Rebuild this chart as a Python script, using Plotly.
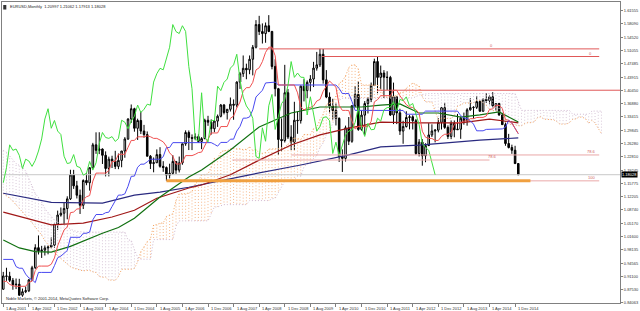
import plotly.graph_objects as go

# ---------------- DATA ----------------
# Monthly EURUSD bars, Aug 2001 .. Jan 2015 (index 0 = Aug 2001)
opens = [0.8763, 0.9116, 0.9108, 0.9000, 0.8881,
         0.8895, 0.8606, 0.8698, 0.8724, 0.9011, 0.9333, 0.9867, 0.9783, 0.9802, 0.9860, 0.9881, 0.9934,
         1.0487, 1.0733, 1.0781, 1.0906, 1.1162, 1.1798, 1.1507, 1.1258, 1.0992, 1.1650, 1.1589, 1.1989,
         1.2596, 1.2450, 1.2485, 1.2318, 1.1967, 1.2216, 1.2166, 1.2024, 1.2183, 1.2431, 1.2752, 1.3281,
         1.3554, 1.3035, 1.3242, 1.2961, 1.2869, 1.2294, 1.2098, 1.2122, 1.2337, 1.2025, 1.1993, 1.1792,
         1.1840, 1.2155, 1.1925, 1.2118, 1.2624, 1.2924, 1.2790, 1.2768, 1.2814, 1.2687, 1.2761, 1.3248,
         1.3197, 1.3023, 1.3226, 1.3354, 1.3652, 1.3454, 1.3539, 1.3674, 1.3649, 1.4261, 1.4484, 1.4627,
         1.4587, 1.4867, 1.5186, 1.5788, 1.5601, 1.5549, 1.5757, 1.5605, 1.4676, 1.4085, 1.2738, 1.2708,
         1.3978, 1.2802, 1.2669, 1.3248, 1.3238, 1.4152, 1.4034, 1.4254, 1.4342, 1.4632, 1.4718, 1.4999,
         1.4320, 1.3864, 1.3628, 1.3507, 1.3298, 1.2284, 1.2237, 1.3048, 1.2690, 1.3633, 1.3933, 1.3004,
         1.3384, 1.3692, 1.3800, 1.4173, 1.4806, 1.4386, 1.4501, 1.4391, 1.4385, 1.3388, 1.3871, 1.3445,
         1.2961, 1.3081, 1.3321, 1.3340, 1.3237, 1.2366, 1.2667, 1.2306, 1.2577, 1.2858, 1.2963, 1.2986,
         1.3193, 1.3580, 1.3058, 1.2819, 1.3166, 1.2995, 1.3009, 1.3302, 1.3224, 1.3525, 1.3583, 1.3591,
         1.3743, 1.3487, 1.3802, 1.3769, 1.3869, 1.3634, 1.3692, 1.3388, 1.3132, 1.2631, 1.2525, 1.2452,
         1.20997]
highs = [0.9224, 0.9334, 0.9226, 0.9062, 0.9048,
         0.9040, 0.8782, 0.8836, 0.9035, 0.9385, 0.9958, 1.0192, 0.9915, 0.9925, 0.9925, 1.0138, 1.0500,
         1.0850, 1.0933, 1.1079, 1.1230, 1.1934, 1.1932, 1.1640, 1.1408, 1.1680, 1.1838, 1.2000, 1.2648,
         1.2928, 1.2930, 1.2500, 1.2422, 1.2283, 1.2307, 1.2437, 1.2365, 1.2434, 1.2800, 1.3300, 1.3667,
         1.3580, 1.3290, 1.3480, 1.3125, 1.2951, 1.2325, 1.2260, 1.2475, 1.2533, 1.2162, 1.2020, 1.2095,
         1.2324, 1.2157, 1.2285, 1.2625, 1.2980, 1.2978, 1.2872, 1.2900, 1.2873, 1.2800, 1.3289, 1.3366,
         1.3270, 1.3250, 1.3400, 1.3680, 1.3680, 1.3545, 1.3852, 1.3801, 1.4282, 1.4528, 1.4967, 1.4750,
         1.4967, 1.5246, 1.5905, 1.6019, 1.5818, 1.5842, 1.6038, 1.5620, 1.4867, 1.4107, 1.3298, 1.4719,
         1.4077, 1.3118, 1.3738, 1.3479, 1.4169, 1.4338, 1.4305, 1.4446, 1.4798, 1.5062, 1.5144, 1.5139,
         1.4579, 1.3987, 1.3818, 1.3692, 1.3325, 1.2475, 1.3106, 1.3334, 1.3650, 1.4158, 1.4282, 1.3500,
         1.3757, 1.3862, 1.4249, 1.4882, 1.4940, 1.4700, 1.4578, 1.4548, 1.4427, 1.4247, 1.3875, 1.3553,
         1.3234, 1.3487, 1.3386, 1.3380, 1.3283, 1.2748, 1.2747, 1.2637, 1.3172, 1.3140, 1.3010, 1.3308,
         1.3598, 1.3711, 1.3112, 1.3243, 1.3242, 1.3416, 1.3345, 1.3452, 1.3569, 1.3832, 1.3620, 1.3893,
         1.3775, 1.3826, 1.3967, 1.3905, 1.3993, 1.3700, 1.3700, 1.3444, 1.3222, 1.2887, 1.2600, 1.2570,
         1.21062]
lows = [0.8754, 0.8986, 0.8955, 0.8750, 0.8768,
        0.8590, 0.8564, 0.8660, 0.8688, 0.8985, 0.9305, 0.9686, 0.9594, 0.9658, 0.9690, 0.9852, 0.9864,
        1.0337, 1.0690, 1.0499, 1.0620, 1.1131, 1.1427, 1.1172, 1.0761, 1.0892, 1.1524, 1.1380, 1.1960,
        1.2356, 1.2350, 1.2088, 1.1758, 1.1758, 1.1980, 1.1952, 1.1950, 1.2000, 1.2254, 1.2726, 1.3180,
        1.2945, 1.2725, 1.2881, 1.2785, 1.2290, 1.1954, 1.1867, 1.2110, 1.1990, 1.1880, 1.1640, 1.1705,
        1.1800, 1.1825, 1.1862, 1.2067, 1.2570, 1.2457, 1.2456, 1.2718, 1.2650, 1.2482, 1.2745, 1.3100,
        1.2866, 1.2930, 1.3072, 1.3325, 1.3403, 1.3267, 1.3480, 1.3261, 1.3589, 1.4080, 1.4398, 1.4336,
        1.4470, 1.4439, 1.5154, 1.5509, 1.5285, 1.5305, 1.5586, 1.4600, 1.3881, 1.2329, 1.2423, 1.2658,
        1.2750, 1.2456, 1.2455, 1.2888, 1.3160, 1.3748, 1.3832, 1.4015, 1.4129, 1.4564, 1.4661, 1.4219,
        1.3834, 1.3434, 1.3267, 1.3110, 1.2142, 1.1876, 1.2152, 1.2590, 1.2650, 1.3598, 1.2968, 1.2971,
        1.2860, 1.3428, 1.3730, 1.4155, 1.3967, 1.4072, 1.3837, 1.4052, 1.3363, 1.3146, 1.3146, 1.2858,
        1.2624, 1.3055, 1.3006, 1.3004, 1.2331, 1.2288, 1.2042, 1.2134, 1.2562, 1.2802, 1.2661, 1.2927,
        1.3003, 1.3020, 1.2750, 1.2746, 1.2796, 1.2990, 1.2755, 1.3131, 1.3104, 1.3502, 1.3295, 1.3546,
        1.3477, 1.3475, 1.3705, 1.3673, 1.3588, 1.3503, 1.3368, 1.3131, 1.2571, 1.2500, 1.2357, 1.2095,
        1.17913]
closes = [0.9116, 0.9108, 0.9000, 0.8881, 0.8895,
          0.8606, 0.8698, 0.8724, 0.9011, 0.9333, 0.9867, 0.9783, 0.9802, 0.9860, 0.9881, 0.9934, 1.0487,
          1.0733, 1.0781, 1.0906, 1.1162, 1.1798, 1.1507, 1.1258, 1.0992, 1.1650, 1.1589, 1.1989, 1.2596,
          1.2450, 1.2485, 1.2318, 1.1967, 1.2216, 1.2166, 1.2024, 1.2183, 1.2431, 1.2752, 1.3281, 1.3554,
          1.3035, 1.3242, 1.2961, 1.2869, 1.2294, 1.2098, 1.2122, 1.2337, 1.2025, 1.1993, 1.1792, 1.1840,
          1.2155, 1.1925, 1.2118, 1.2624, 1.2924, 1.2790, 1.2768, 1.2814, 1.2687, 1.2761, 1.3248, 1.3197,
          1.3023, 1.3226, 1.3354, 1.3652, 1.3454, 1.3539, 1.3674, 1.3649, 1.4261, 1.4484, 1.4627, 1.4587,
          1.4867, 1.5186, 1.5788, 1.5601, 1.5549, 1.5757, 1.5605, 1.4676, 1.4085, 1.2738, 1.2708, 1.3978,
          1.2802, 1.2669, 1.3248, 1.3238, 1.4152, 1.4034, 1.4254, 1.4342, 1.4632, 1.4718, 1.4999, 1.4320,
          1.3864, 1.3628, 1.3507, 1.3298, 1.2284, 1.2237, 1.3048, 1.2690, 1.3633, 1.3933, 1.3004, 1.3384,
          1.3692, 1.3800, 1.4173, 1.4806, 1.4386, 1.4501, 1.4391, 1.4385, 1.3388, 1.3871, 1.3445, 1.2961,
          1.3081, 1.3321, 1.3340, 1.3237, 1.2366, 1.2667, 1.2306, 1.2577, 1.2858, 1.2963, 1.2986, 1.3193,
          1.3580, 1.3058, 1.2819, 1.3166, 1.2995, 1.3009, 1.3302, 1.3224, 1.3525, 1.3583, 1.3591, 1.3743,
          1.3487, 1.3802, 1.3769, 1.3869, 1.3634, 1.3692, 1.3388, 1.3132, 1.2631, 1.2525, 1.2452, 1.2098,
          1.18028]

# Ichimoku Tenkan-sen (red) and Kijun-sen (blue), one value per bar
tenkan = [0.8972, 0.8972, 0.8893, 0.8855, 0.8842, 0.8842, 0.8842, 0.8842, 0.8949, 0.8975,
          0.9261, 0.9378, 0.9378, 0.9378, 0.9378, 0.9426, 0.9594, 0.9918, 1.0119, 1.0337,
          1.0412, 1.0796, 1.0812, 1.0893, 1.0899, 1.1136, 1.1217, 1.1250, 1.1634, 1.1845,
          1.1846, 1.1846, 1.1846, 1.1911, 1.2155, 1.2155, 1.2344, 1.2344, 1.2344, 1.2529,
          1.2713, 1.2713, 1.2809, 1.2809, 1.2809, 1.2834, 1.2811, 1.2767, 1.2767, 1.2724,
          1.2674, 1.2560, 1.2383, 1.2296, 1.2087, 1.2087, 1.2133, 1.2310, 1.2310, 1.2310,
          1.2343, 1.2390, 1.2403, 1.2576, 1.2717, 1.2911, 1.2911, 1.2911, 1.3081, 1.3081,
          1.3081, 1.3299, 1.3359, 1.3574, 1.3729, 1.4020, 1.4114, 1.4114, 1.4254, 1.4583,
          1.4640, 1.4804, 1.5050, 1.5187, 1.5187, 1.4960, 1.4184, 1.4184, 1.4184, 1.4184,
          1.4184, 1.4184, 1.3975, 1.3598, 1.3524, 1.3571, 1.3587, 1.3627, 1.3759, 1.3800,
          1.4016, 1.4152, 1.4289, 1.4206, 1.4127, 1.3643, 1.3510, 1.3510, 1.3508, 1.3228,
          1.3017, 1.3079, 1.3079, 1.3079, 1.3079, 1.3217, 1.3736, 1.3795, 1.3900, 1.3900,
          1.3900, 1.3900, 1.4043, 1.4043, 1.3899, 1.3782, 1.3662, 1.3601, 1.3586, 1.3526,
          1.3436, 1.2956, 1.2798, 1.2765, 1.2765, 1.2714, 1.2711, 1.2820, 1.2877, 1.2877,
          1.2923, 1.3137, 1.3186, 1.3186, 1.3229, 1.3229, 1.3289, 1.3289, 1.3320, 1.3324,
          1.3324, 1.3361, 1.3536, 1.3549, 1.3644, 1.3644, 1.3562, 1.3269, 1.3247, 1.3175,
          1.3047, 1.2892]
kijun = [0.9555, 0.9555, 0.9555, 0.9555, 0.9364, 0.9321, 0.9321, 0.9164, 0.9064, 0.9019,
         0.8939, 0.9210, 0.9210, 0.9210, 0.9210, 0.9210, 0.9390, 0.9600, 0.9642, 0.9715,
         0.9790, 1.0142, 1.0142, 1.0142, 1.0142, 1.0249, 1.0249, 1.0282, 1.0606, 1.0746,
         1.0747, 1.0747, 1.0795, 1.0809, 1.0958, 1.1118, 1.1262, 1.1262, 1.1294, 1.1495,
         1.1760, 1.1766, 1.2002, 1.2083, 1.2083, 1.2144, 1.2214, 1.2214, 1.2214, 1.2214,
         1.2280, 1.2524, 1.2524, 1.2654, 1.2654, 1.2654, 1.2654, 1.2654, 1.2654, 1.2654,
         1.2654, 1.2654, 1.2654, 1.2654, 1.2654, 1.2654, 1.2610, 1.2560, 1.2660, 1.2660,
         1.2660, 1.2746, 1.2746, 1.2961, 1.3084, 1.3304, 1.3304, 1.3336, 1.3523, 1.3865,
         1.3941, 1.4043, 1.4238, 1.4247, 1.4247, 1.4260, 1.4184, 1.4184, 1.4184, 1.4184,
         1.4184, 1.4184, 1.4184, 1.4184, 1.4184, 1.4184, 1.4184, 1.4184, 1.4184, 1.4184,
         1.4184, 1.4184, 1.4184, 1.4184, 1.4184, 1.4090, 1.3957, 1.3957, 1.3957, 1.3748,
         1.3510, 1.3510, 1.3510, 1.3510, 1.3510, 1.3510, 1.3510, 1.3510, 1.3510, 1.3510,
         1.3510, 1.3510, 1.3510, 1.3510, 1.3510, 1.3508, 1.3408, 1.3408, 1.3408, 1.3408,
         1.3408, 1.3408, 1.3491, 1.3491, 1.3491, 1.3491, 1.3491, 1.3491, 1.3491, 1.3491,
         1.3491, 1.3491, 1.3491, 1.3371, 1.3310, 1.3295, 1.3235, 1.3145, 1.2968, 1.2968,
         1.2968, 1.3005, 1.3005, 1.3018, 1.3018, 1.3018, 1.3018, 1.3064, 1.3247, 1.3175,
         1.3047, 1.2892]

# Ichimoku cloud (Senkou A / B) as displayed at each bar position 0..187
span_a = [1.130, 1.125, 1.118, 1.110, 1.100, 1.090, 1.080, 1.072, 1.063, 1.052,
          1.040, 1.030, 1.020, 1.005, 0.995, 0.985, 0.972, 0.965, 0.958, 0.950,
          0.943, 0.936, 0.932, 0.930, 0.927, 0.925,
          0.9264, 0.9264, 0.9224, 0.9205, 0.9103, 0.9082, 0.9082, 0.9003, 0.9007, 0.8997,
          0.9100, 0.9294, 0.9294, 0.9294, 0.9294, 0.9318, 0.9492, 0.9759, 0.9881, 1.0026,
          1.0101, 1.0469, 1.0477, 1.0518, 1.0521, 1.0693, 1.0733, 1.0766, 1.1120, 1.1296,
          1.1297, 1.1297, 1.1321, 1.1360, 1.1557, 1.1637, 1.1803, 1.1803, 1.1819, 1.2012,
          1.2237, 1.2240, 1.2406, 1.2446, 1.2446, 1.2489, 1.2513, 1.2491, 1.2491, 1.2469,
          1.2477, 1.2542, 1.2454, 1.2475, 1.2371, 1.2371, 1.2394, 1.2482, 1.2482, 1.2482,
          1.2499, 1.2522, 1.2529, 1.2615, 1.2686, 1.2783, 1.2761, 1.2736, 1.2871, 1.2871,
          1.2871, 1.3023, 1.3053, 1.3268, 1.3407, 1.3662, 1.3709, 1.3725, 1.3889, 1.4224,
          1.4291, 1.4424, 1.4644, 1.4717, 1.4717, 1.4610, 1.4184, 1.4184, 1.4184, 1.4184,
          1.4184, 1.4184, 1.4080, 1.3891, 1.3854, 1.3878, 1.3886, 1.3906, 1.3972, 1.3992,
          1.4100, 1.4168, 1.4237, 1.4195, 1.4156, 1.3867, 1.3734, 1.3734, 1.3733, 1.3488,
          1.3264, 1.3295, 1.3295, 1.3295, 1.3295, 1.3364, 1.3623, 1.3653, 1.3705, 1.3705,
          1.3705, 1.3705, 1.3777, 1.3777, 1.3705, 1.3645, 1.3535, 1.3505, 1.3497, 1.3467,
          1.3422, 1.3182, 1.3145, 1.3128, 1.3128, 1.3103, 1.3101, 1.3156, 1.3184, 1.3184,
          1.3207, 1.3314, 1.3339, 1.3279, 1.3270, 1.3262, 1.3262, 1.3217, 1.3144, 1.3146,
          1.3146, 1.3183, 1.3271, 1.3284, 1.3331, 1.3331, 1.3290, 1.3167, 1.3247, 1.3175,
          1.3047, 1.2892]
span_b = [1.245, 1.240, 1.230, 1.220, 1.210, 1.205, 1.200, 1.190, 1.170, 1.150,
          1.130, 1.120, 1.107, 1.090, 1.080, 1.070, 1.060, 1.055, 1.050, 1.045,
          1.040, 1.036, 1.032, 1.030, 1.028, 1.028,
          1.028, 1.028, 1.028, 1.028, 1.028, 1.028, 1.028, 1.028, 1.028, 1.028,
          1.028, 1.028, 1.028, 1.0067, 1.0067, 0.9814, 0.9614, 0.9560, 0.9560, 0.9560,
          0.9560, 1.0081, 1.0081, 1.0081, 1.0081, 1.0081, 1.0081, 1.0081, 1.0438, 1.0578,
          1.0579, 1.0579, 1.0579, 1.0579, 1.0579, 1.0579, 1.0579, 1.0579, 1.0579, 1.0764,
          1.0948, 1.0948, 1.0974, 1.1009, 1.1009, 1.1009, 1.1009, 1.1009, 1.1009, 1.1009,
          1.1009, 1.1116, 1.1116, 1.1116, 1.1116, 1.1116, 1.1116, 1.1116, 1.1164, 1.1178,
          1.1326, 1.1486, 1.1631, 1.1631, 1.1663, 1.1679, 1.1760, 1.1766, 1.2009, 1.2090,
          1.2090, 1.2236, 1.2307, 1.2522, 1.2645, 1.2864, 1.2930, 1.3174, 1.3313, 1.3773,
          1.3830, 1.3830, 1.3830, 1.3839, 1.3839, 1.3839, 1.3839, 1.3839, 1.3839, 1.3839,
          1.3839, 1.3839, 1.3839, 1.3839, 1.3839, 1.3839, 1.3839, 1.3839, 1.3839, 1.3839,
          1.3839, 1.3839, 1.3839, 1.3872, 1.3919, 1.3932, 1.3950, 1.3957, 1.3957, 1.3957,
          1.3957, 1.3957, 1.3957, 1.3957, 1.3957, 1.3957, 1.3957, 1.3957, 1.3957, 1.3957,
          1.3957, 1.3957, 1.3957, 1.3957, 1.3957, 1.3957, 1.3957, 1.3957, 1.3957, 1.3957,
          1.3957, 1.3957, 1.3957, 1.3957, 1.3957, 1.3748, 1.3510, 1.3510, 1.3510, 1.3510,
          1.3510, 1.3510, 1.3510, 1.3510, 1.3510, 1.3510, 1.3510, 1.3510, 1.3510, 1.3510,
          1.3510, 1.3508, 1.3408, 1.3408, 1.3408, 1.3408, 1.3408, 1.3408, 1.3491, 1.3491,
          1.3491, 1.3491]
chikou_lag = 26

# Moving averages, read at sample bars
ma_green_x = [0, 5, 10, 15, 21, 27, 31, 36, 41, 49, 58, 62, 71, 80, 90, 99, 112, 118, 124, 130, 136, 143, 149, 155, 161]
ma_green_y = [1.007, 0.986, 0.976, 0.975, 0.990, 1.012, 1.025, 1.040, 1.065, 1.121, 1.174, 1.193, 1.246,
              1.307, 1.344, 1.360, 1.360, 1.365, 1.368, 1.344, 1.344, 1.333, 1.339, 1.347, 1.320]
ma_red_x = [0, 15, 25, 34, 41, 48, 58, 62, 71, 80, 90, 99, 108, 118, 130, 143, 152, 161]
ma_red_y = [1.081, 1.047, 1.052, 1.068, 1.086, 1.118, 1.145, 1.153, 1.180, 1.219, 1.259, 1.286,
            1.304, 1.320, 1.318, 1.318, 1.328, 1.318]
ma_navy_x = [0, 15, 31, 41, 49, 58, 77, 93, 108, 118, 130, 149, 161]
ma_navy_y = [1.131, 1.107, 1.105, 1.126, 1.134, 1.147, 1.180, 1.206, 1.233, 1.254, 1.259, 1.272, 1.278]

# Horizontal line objects: price, start bar, end bar, label, label bar
level_price = [1.5142, 1.4940, 1.4045, 1.2327, 1.2193, 1.1640]
level_x0 = [80.0, 99.6, 116.8, 90.0, 71.6, 51.0]
level_x1 = [186.3, 186.3, 192.8, 186.3, 152.0, 186.3]
level_text = ["0", "0", "", "78.6", "78.6", "100"]
level_text_x = [151.4, 182.5, 0, 181.9, 151.0, 182.2]
trend_price = 1.1640
trend_x0, trend_x1 = 51.0, 164.8
bid_price = 1.18028

# Axis labels
y_ticks = [1.61555, 1.58090, 1.54520, 1.51055, 1.47485, 1.43915, 1.40450, 1.36880, 1.33415, 1.29845,
           1.26280, 1.22810, 1.19245, 1.15775, 1.12205, 1.08740, 1.05170, 1.01600, 0.98135, 0.94565,
           0.91100, 0.87530, 0.84063]
x_tick_bars = [0, 8, 16, 24, 32, 40, 48, 56, 64, 72, 80, 88, 96, 104, 112, 120, 128, 136, 144, 152, 160]
x_tick_text = ["1 Aug 2001", "1 Apr 2002", "1 Dec 2002", "1 Aug 2003", "1 Apr 2004", "1 Dec 2004",
               "1 Aug 2005", "1 Apr 2006", "1 Dec 2006", "1 Aug 2007", "1 Apr 2008", "1 Dec 2008",
               "1 Aug 2009", "1 Apr 2010", "1 Dec 2010", "1 Aug 2011", "1 Apr 2012", "1 Dec 2012",
               "1 Aug 2013", "1 Apr 2014", "1 Dec 2014"]
title_text = "EURUSD,Monthly  1.20997 1.21062 1.17913 1.18028"
copyright_text = "Noble Markets, \u00a9 2001-2014, MetaQuotes Software Corp."

# ---------------- FIGURE ----------------
FONT = "Liberation Sans"
N = len(closes)
bars = list(range(N))
fig = go.Figure()

# cloud as dotted vertical histogram
up_x, up_y, dn_x, dn_y = [], [], [], []
for m, (a, b) in enumerate(zip(span_a, span_b)):
    if a >= b:
        up_x += [m, m, None]; up_y += [a, b, None]
    else:
        dn_x += [m, m, None]; dn_y += [a, b, None]
fig.add_trace(go.Scatter(x=up_x, y=up_y, mode="lines", line=dict(color="#F6B88A", width=1, dash="1px,2px"),
                         hoverinfo="skip"))
fig.add_trace(go.Scatter(x=dn_x, y=dn_y, mode="lines", line=dict(color="#D8C8D8", width=1, dash="1px,2px"),
                         hoverinfo="skip"))
cx = list(range(len(span_a)))
fig.add_trace(go.Scatter(x=cx, y=span_a, mode="lines", line=dict(color="#F4A460", width=1, dash="1px,2px")))
fig.add_trace(go.Scatter(x=cx, y=span_b, mode="lines", line=dict(color="#D0B8D0", width=1, dash="1px,2px")))

# bid line
fig.add_trace(go.Scatter(x=[-1, 200], y=[bid_price, bid_price], mode="lines",
                         line=dict(color="#C8C8C8", width=1)))

# candles
fig.add_trace(go.Candlestick(x=bars, open=opens, high=highs, low=lows, close=closes,
                             increasing=dict(line=dict(color="black", width=1), fillcolor="white"),
                             decreasing=dict(line=dict(color="black", width=1), fillcolor="black"),
                             whiskerwidth=0))

# moving averages
fig.add_trace(go.Scatter(x=ma_navy_x, y=ma_navy_y, mode="lines", line=dict(color="#2a2a80", width=1.2)))
fig.add_trace(go.Scatter(x=ma_red_x, y=ma_red_y, mode="lines", line=dict(color="#a01818", width=1.2)))
fig.add_trace(go.Scatter(x=ma_green_x, y=ma_green_y, mode="lines", line=dict(color="#107010", width=1.2)))

# ichimoku lines
fig.add_trace(go.Scatter(x=bars, y=kijun, mode="lines", line=dict(color="#4848f0", width=1)))
fig.add_trace(go.Scatter(x=bars, y=tenkan, mode="lines", line=dict(color="#f05050", width=1)))
fig.add_trace(go.Scatter(x=[i - chikou_lag for i in range(chikou_lag, N)], y=closes[chikou_lag:], mode="lines",
                         line=dict(color="#40e040", width=1)))

# level lines
for p, x0, x1, t, tx in zip(level_price, level_x0, level_x1, level_text, level_text_x):
    col = "#e05858" if p > 1.3 else "#eaa8a8"
    fig.add_trace(go.Scatter(x=[x0, x1], y=[p, p], mode="lines", line=dict(color=col, width=1)))
    if t:
        fig.add_annotation(x=tx, y=p, xref="x", yref="y", text=t, showarrow=False, xanchor="left",
                           yanchor="bottom", yshift=-1, font=dict(family=FONT, size=4, color="#d06060"))
fig.add_trace(go.Scatter(x=[trend_x0, trend_x1], y=[trend_price, trend_price], mode="lines",
                         line=dict(color="#f0a040", width=3)))

# x labels
for b, t in zip(x_tick_bars, x_tick_text):
    fig.add_annotation(x=b, y=0, xref="x", yref="paper", text=t, showarrow=False, xanchor="left",
                       yanchor="top", xshift=1, yshift=-1, font=dict(family=FONT, size=4, color="#333333"))

# bid price label
fig.add_annotation(x=1, y=bid_price, xref="paper", yref="y", text="1.18028", showarrow=False,
                   xanchor="left", yanchor="middle", xshift=1, bgcolor="black", borderpad=0,
                   font=dict(family=FONT, size=4, color="white"))
# title & copyright
fig.add_annotation(x=0, y=1, xref="paper", yref="paper", text=title_text, showarrow=False,
                   xanchor="left", yanchor="top", xshift=6, yshift=0, font=dict(family=FONT, size=4, color="#222"))
fig.add_annotation(x=0, y=0, xref="paper", yref="paper", text=copyright_text, showarrow=False,
                   xanchor="left", yanchor="bottom", xshift=2, yshift=0, font=dict(family=FONT, size=4, color="#222"))
fig.add_shape(type="rect", xref="paper", yref="paper", x0=0.002, x1=0.007, y0=0.975, y1=0.99,
              fillcolor="#333", line=dict(width=0))

fig.update_layout(
    width=640, height=311, margin=dict(l=1, r=19, t=2, b=8),
    paper_bgcolor="white", plot_bgcolor="white", showlegend=False,
    xaxis=dict(range=[-0.4, 192.8], showgrid=False, zeroline=False, showline=True, linecolor="#808080",
               linewidth=1, mirror=True, tickvals=x_tick_bars, ticks="outside", ticklen=3,
               tickcolor="#808080", showticklabels=False, rangeslider=dict(visible=False), fixedrange=True),
    yaxis=dict(range=[0.83983, 1.63864], side="right", showgrid=False, zeroline=False, showline=True,
               linecolor="#808080", linewidth=1, mirror=True, tickvals=y_ticks,
               ticktext=["%.5f" % v for v in y_ticks], ticks="outside", ticklen=2, tickcolor="#808080",
               tickfont=dict(family=FONT, size=4, color="#333333"), fixedrange=True),
)

fig.write_html("out.html")
